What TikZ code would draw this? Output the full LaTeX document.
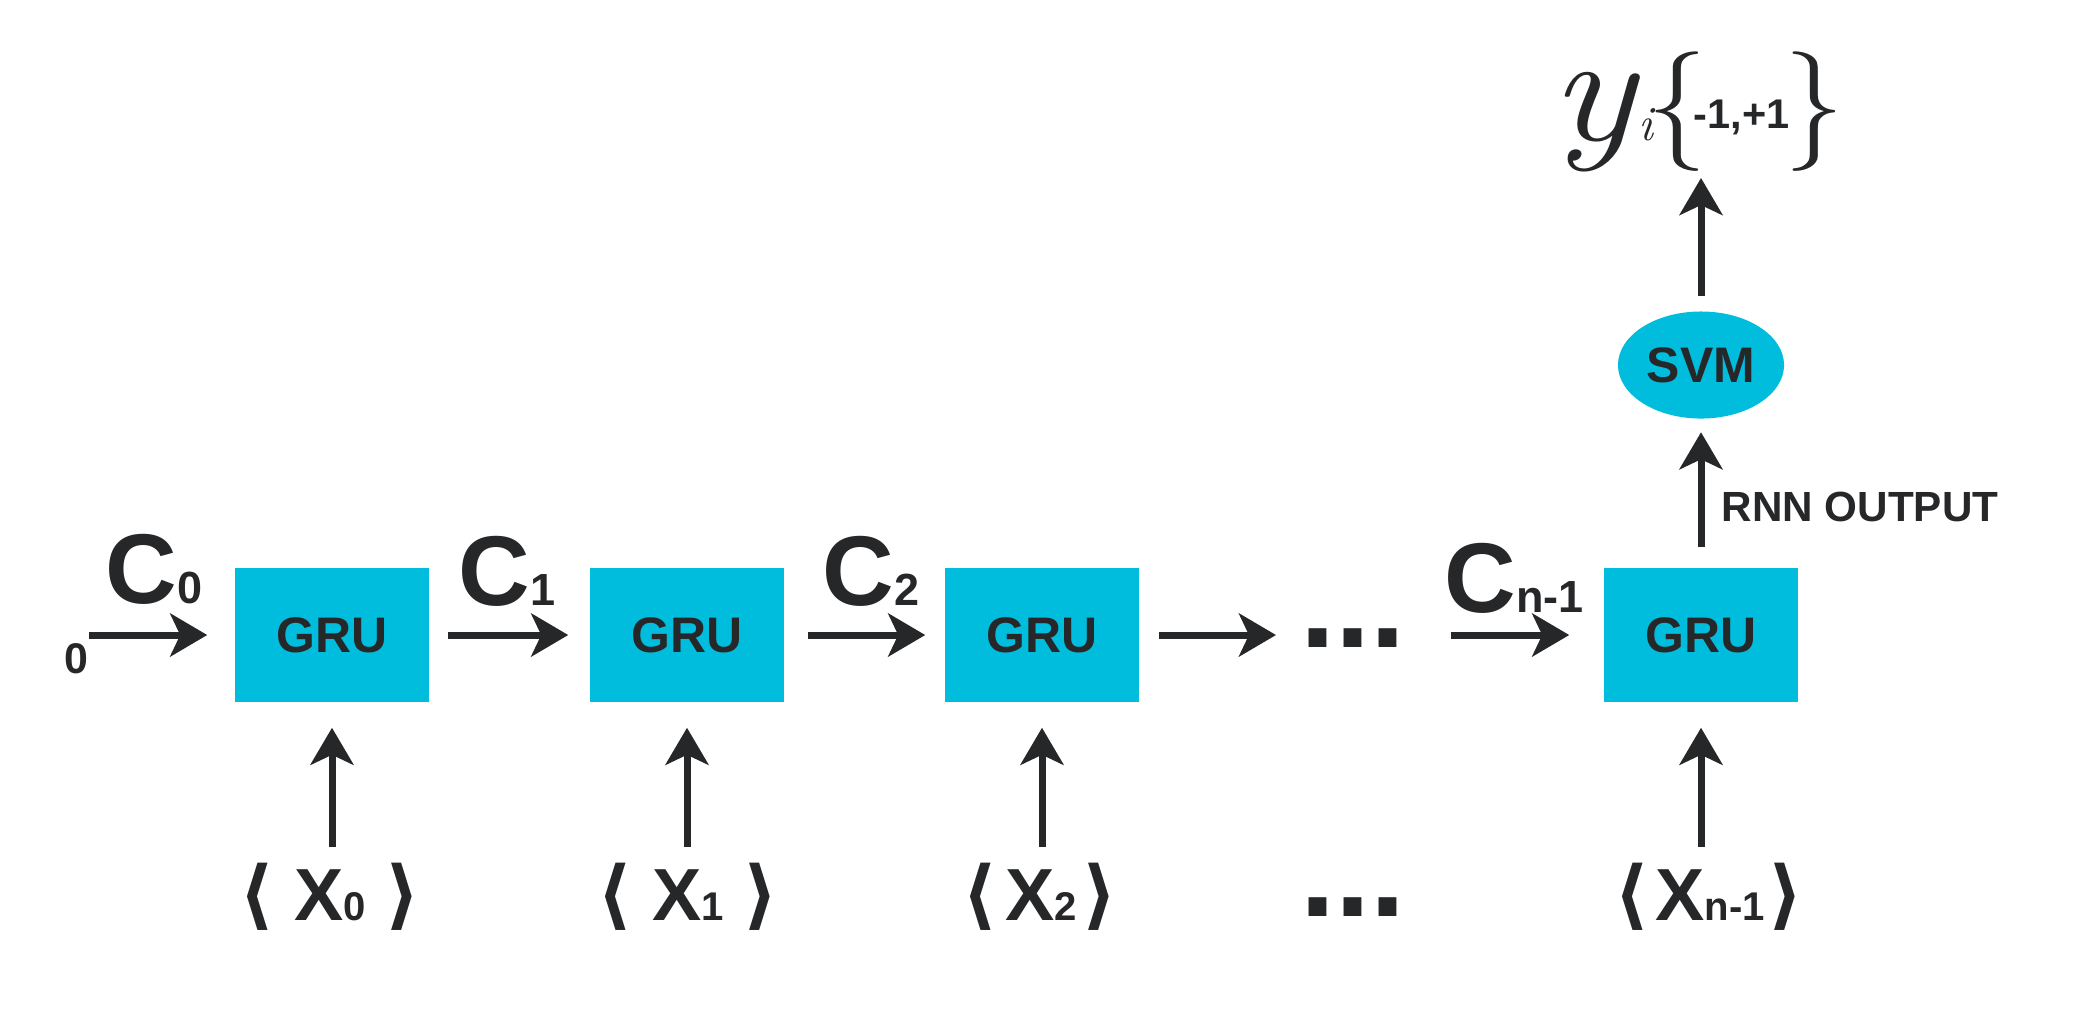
\documentclass[tikz,border=0pt]{standalone}
\usepackage{fontspec}
\setmainfont{Liberation Sans}
\newfontfamily\dejavu{DejaVu Sans}
\newfontfamily\lmroman{Latin Modern Roman}
\usetikzlibrary{arrows.meta,shapes.geometric,positioning}
\definecolor{gruCyan}{HTML}{00BDDD}
\definecolor{inkGray}{HTML}{262729}
\newcommand{\fsz}[1]{\fontsize{#1}{#1}\selectfont}
\newcommand{\brk}[1]{{\dejavu\bfseries\fsz{21.5pt}#1}}
\tikzset{
	gru/.style={fill=gruCyan, minimum width=1.94cm, minimum height=1.34cm, inner sep=0pt, font=\fsz{14.2pt}\bfseries, text=inkGray},
	svm/.style={ellipse, fill=gruCyan, minimum width=1.66cm, minimum height=1.07cm, inner sep=0pt, font=\fsz{14.2pt}\bfseries, text=inkGray},
	clab/.style={anchor=base west, inner sep=0pt, font=\fsz{28.2pt}\bfseries, text=inkGray},
	xlab/.style={inner sep=0pt, font=\fsz{21pt}\bfseries, text=inkGray},
	plain/.style={anchor=base west, inner sep=0pt, text=inkGray},
	flow/.style={draw=inkGray, line width=0.07cm, -{Stealth[length=0.37cm, width=0.43cm, inset=0.1cm]}},
}

\begin{document}
\begin{tikzpicture}[x=0.01cm, y=-0.01cm]
	\useasboundingbox (0,0) rectangle (2094,1035);
	\node[gru] (gru1) at (332,635) {GRU};
	\node[gru] (gru2) at (687,635) {GRU};
	\node[gru] (gru3) at (1042,635) {GRU};
	\node[gru] (gru4) at (1701,635) {GRU};
	\node[svm] (svm) at (1701,365) {SVM};

	\coordinate (h0) at (89,635);
	\node[plain, font=\fsz{12.2pt}\bfseries] (zero) at (64,673) {0};
	\node[clab] (c0) at (105,603) {C{\fsz{12.8pt}0}};
	\node[clab] (c1) at (458,605) {C{\fsz{12.8pt}1}};
	\node[clab] (c2) at (822,605) {C{\fsz{12.8pt}2}};
	\node[clab] (cn) at (1444,612) {C{\fsz{12.8pt}n-1}};
	\node[plain, font=\fsz{35.9pt}\bfseries] (hdots) at (1300,647) {...};
	\node[plain, font=\fsz{35.9pt}\bfseries] (xdots) at (1300,916) {...};

	\node[xlab] (x0) at (330,897) {\brk{⟨}\hspace{0.2cm}X{\fsz{11.4pt}0}\hspace{0.2cm}\brk{⟩}};
	\node[xlab] (x1) at (688,897) {\brk{⟨}\hspace{0.2cm}X{\fsz{11.4pt}1}\hspace{0.2cm}\brk{⟩}};
	\node[xlab] (x2) at (1040,897) {\brk{⟨}\hspace{0.08cm}X{\fsz{11.4pt}2}\hspace{0.06cm}\brk{⟩}};
	\node[xlab] (xn) at (1709,897) {\brk{⟨}\hspace{0.06cm}X{\fsz{11.4pt}n-1}\hspace{0.04cm}\brk{⟩}};

	\node[plain, font=\fsz{12pt}\bfseries] (rnnout) at (1721,521) {RNN OUTPUT};
	\node[plain, font=\lmroman\itshape\fsz{44pt}] (yvar) at (1550,140) {\scalebox{1.15}[1]{y}};
	\node[plain, font=\lmroman\itshape\fsz{14pt}] (ysub) at (1638,140) {i};
	\node[inner sep=-0.2cm, text=inkGray, font=\lmroman\fsz{34pt}] (lbr) at (1677,112) {\{};
	\node[plain, font=\fsz{11.8pt}\bfseries] (yset) at (1693,128) {-1,+1};
	\node[inner sep=-0.2cm, text=inkGray, font=\lmroman\fsz{34pt}] (rbr) at (1814,112) {\}};
	\coordinate (yout) at (1701,178);

	\draw[flow, shorten >=0.27cm] (h0) -- (gru1.west);
	\draw[flow, shorten <=0.18cm, shorten >=0.21cm] (gru1.east) -- (gru2.west);
	\draw[flow, shorten <=0.23cm, shorten >=0.19cm] (gru2.east) -- (gru3.west);
	\draw[flow, shorten <=0.19cm, shorten >=0.24cm] (gru3.east) -- (hdots.west |- gru3.east);
	\draw[flow, shorten <=0.44cm, shorten >=0.34cm] (hdots.east |- gru4.west) -- (gru4.west);
	\draw[flow, shorten <=0.16cm, shorten >=0.25cm] (gru1.south |- x0.north) -- (gru1.south);
	\draw[flow, shorten <=0.16cm, shorten >=0.25cm] (gru2.south |- x1.north) -- (gru2.south);
	\draw[flow, shorten <=0.16cm, shorten >=0.25cm] (gru3.south |- x2.north) -- (gru3.south);
	\draw[flow, shorten <=0.16cm, shorten >=0.25cm] (gru4.south |- xn.north) -- (gru4.south);
	\draw[flow, shorten <=0.20cm, shorten >=0.13cm] (gru4.north) -- (svm.south);
	\draw[flow, shorten <=0.15cm] (svm.north) -- (yout);
\end{tikzpicture}
\end{document}
